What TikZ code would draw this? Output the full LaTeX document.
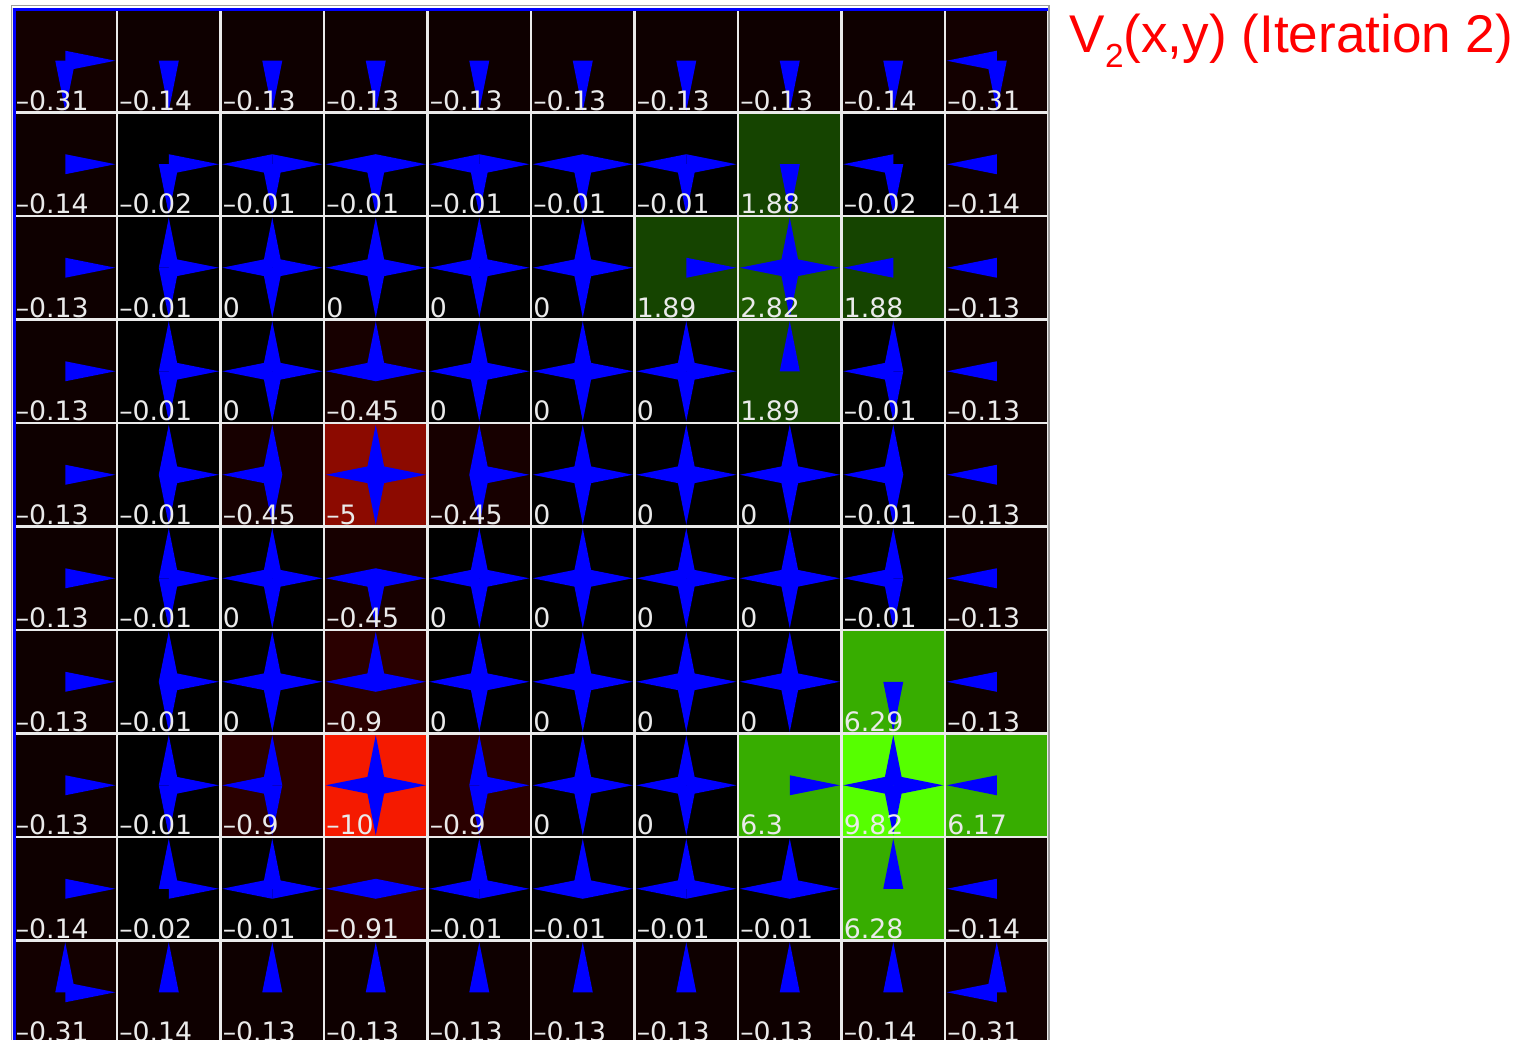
\documentclass[tikz,border=0pt]{standalone}
\usepackage{fontspec}
\usepackage{xcolor}
\usepackage{tikz}
\newfontfamily\cellfont{DejaVu Sans}
\newfontfamily\titlefont{Liberation Sans}
\definecolor{vz}{HTML}{000000}
\definecolor{vn1}{HTML}{0E0000}
\definecolor{vn2}{HTML}{130000}
\definecolor{vn3}{HTML}{170000}
\definecolor{vn4}{HTML}{2A0000}
\definecolor{vn5}{HTML}{8C0A00}
\definecolor{vn6}{HTML}{F51A00}
\definecolor{vp1}{HTML}{154400}
\definecolor{vp2}{HTML}{1D5A00}
\definecolor{vp3}{HTML}{37AD00}
\definecolor{vp4}{HTML}{56FF00}
\definecolor{armblue}{HTML}{0000FF}
\definecolor{gridwhite}{HTML}{EAEAEA}
\definecolor{framegray}{HTML}{9C9C9C}

% one cell: row, column, value, arms (N=1, E=2, S=4, W=8), fill
\newcommand{\gridcell}[5]{%
  \node[cell, fill=#5] (c-#1-#2) at ({13.5+103.5*#2+51.75},{9+103.5*#1+51.75}) {};
  \foreach \ang/\bit in {90/1,0/2,270/4,180/8} {
    \pgfmathtruncatemacro{\hasarm}{mod(floor(#4/\bit),2)}
    \ifnum\hasarm=1
      \fill[armblue, shift={(c-#1-#2.center)}, rotate=\ang] (0,-10) -- (50,0) -- (0,10) -- cycle;
    \fi
  }
  \node[vlabel] (v-#1-#2) at ([shift={(3,-3.5)}]c-#1-#2.south west) {#3};
}

\begin{document}
\begin{tikzpicture}[
  x=0.01cm, y=-0.01cm,
  cell/.style={rectangle, minimum size=1.035cm, inner sep=0pt,
    draw=gridwhite, line width=0.75pt},
  vlabel/.style={font=\cellfont\fontsize{7.6}{8}\selectfont, text=gridwhite,
    inner sep=0pt, anchor=base west},
  title/.style={font=\titlefont\fontsize{15.1}{18}\selectfont, text=red,
    inner sep=0pt, anchor=base west}
]

\useasboundingbox (0,0) rectangle (1519,1040);

% ---- Value grid ----
\foreach \val/\dirs/\bg [count=\c from 0] in {–0.31/6/vn2, –0.14/4/vn1, –0.13/4/vn1, –0.13/4/vn1, –0.13/4/vn1, –0.13/4/vn1, –0.13/4/vn1, –0.13/4/vn1, –0.14/4/vn1, –0.31/12/vn2}
  {\gridcell{0}{\c}{\val}{\dirs}{\bg}}
\foreach \val/\dirs/\bg [count=\c from 0] in {–0.14/2/vn1, –0.02/6/vz, –0.01/14/vz, –0.01/14/vz, –0.01/14/vz, –0.01/14/vz, –0.01/14/vz, 1.88/4/vp1, –0.02/12/vz, –0.14/8/vn1}
  {\gridcell{1}{\c}{\val}{\dirs}{\bg}}
\foreach \val/\dirs/\bg [count=\c from 0] in {–0.13/2/vn1, –0.01/7/vz, 0/15/vz, 0/15/vz, 0/15/vz, 0/15/vz, 1.89/2/vp1, 2.82/15/vp2, 1.88/8/vp1, –0.13/8/vn1}
  {\gridcell{2}{\c}{\val}{\dirs}{\bg}}
\foreach \val/\dirs/\bg [count=\c from 0] in {–0.13/2/vn1, –0.01/7/vz, 0/15/vz, –0.45/11/vn3, 0/15/vz, 0/15/vz, 0/15/vz, 1.89/1/vp1, –0.01/13/vz, –0.13/8/vn1}
  {\gridcell{3}{\c}{\val}{\dirs}{\bg}}
\foreach \val/\dirs/\bg [count=\c from 0] in {–0.13/2/vn1, –0.01/7/vz, –0.45/13/vn3, –5/15/vn5, –0.45/7/vn3, 0/15/vz, 0/15/vz, 0/15/vz, –0.01/13/vz, –0.13/8/vn1}
  {\gridcell{4}{\c}{\val}{\dirs}{\bg}}
\foreach \val/\dirs/\bg [count=\c from 0] in {–0.13/2/vn1, –0.01/7/vz, 0/15/vz, –0.45/14/vn3, 0/15/vz, 0/15/vz, 0/15/vz, 0/15/vz, –0.01/13/vz, –0.13/8/vn1}
  {\gridcell{5}{\c}{\val}{\dirs}{\bg}}
\foreach \val/\dirs/\bg [count=\c from 0] in {–0.13/2/vn1, –0.01/7/vz, 0/15/vz, –0.9/11/vn4, 0/15/vz, 0/15/vz, 0/15/vz, 0/15/vz, 6.29/4/vp3, –0.13/8/vn1}
  {\gridcell{6}{\c}{\val}{\dirs}{\bg}}
\foreach \val/\dirs/\bg [count=\c from 0] in {–0.13/2/vn1, –0.01/7/vz, –0.9/13/vn4, –10/15/vn6, –0.9/7/vn4, 0/15/vz, 0/15/vz, 6.3/2/vp3, 9.82/15/vp4, 6.17/8/vp3}
  {\gridcell{7}{\c}{\val}{\dirs}{\bg}}
\foreach \val/\dirs/\bg [count=\c from 0] in {–0.14/2/vn1, –0.02/3/vz, –0.01/11/vz, –0.91/10/vn4, –0.01/11/vz, –0.01/11/vz, –0.01/11/vz, –0.01/11/vz, 6.28/1/vp3, –0.14/8/vn1}
  {\gridcell{8}{\c}{\val}{\dirs}{\bg}}
\foreach \val/\dirs/\bg [count=\c from 0] in {–0.31/3/vn2, –0.14/1/vn1, –0.13/1/vn1, –0.13/1/vn1, –0.13/1/vn1, –0.13/1/vn1, –0.13/1/vn1, –0.13/1/vn1, –0.14/1/vn1, –0.31/9/vn2}
  {\gridcell{9}{\c}{\val}{\dirs}{\bg}}

% ---- Frame ----
\draw[framegray, line width=0.5pt] (11.5,5.5) rectangle (1049,1052);
\draw[armblue, line width=0.8pt] (14.8,1052) -- (14.8,9.8) -- (1048,9.8);

% ---- Title ----
\node[title] (title) at (1069,53) {V{\fontsize{9.5}{10}\selectfont\raisebox{-4pt}{2}}(x,y) (Iteration 2)};

\end{tikzpicture}
\end{document}
